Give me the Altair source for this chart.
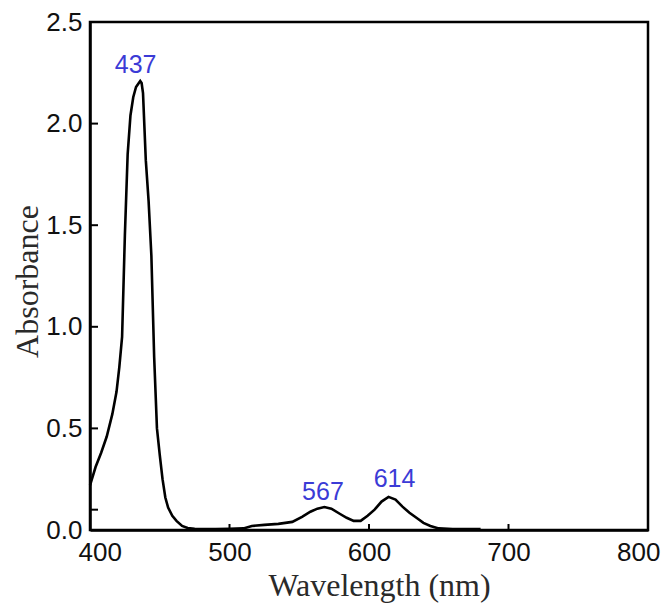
import altair as alt
import pandas as pd

# Absorption spectrum
wavelength = [400, 404, 408, 412, 416, 419, 421, 423, 425, 427, 429, 431, 433, 435, 436, 437, 438,
              440, 442, 444, 446, 448, 450, 452, 454, 456, 459, 462, 466, 470, 475, 480, 490, 500,
              510, 516, 525, 535, 545, 552, 558, 563, 568, 573, 579, 584, 589, 594, 599, 604, 609,
              614, 619, 624, 629, 634, 639, 644, 650, 660, 670, 680]
absorbance = [0.22, 0.31, 0.38, 0.46, 0.57, 0.68, 0.80, 0.95, 1.45, 1.85, 2.04, 2.13, 2.18, 2.20, 2.21,
              2.20, 2.15, 1.82, 1.62, 1.35, 0.85, 0.50, 0.37, 0.25, 0.16, 0.11, 0.07, 0.045, 0.02, 0.01,
              0.006, 0.005, 0.005, 0.006, 0.008, 0.02, 0.025, 0.03, 0.04, 0.065, 0.09, 0.105, 0.113,
              0.105, 0.08, 0.06, 0.045, 0.045, 0.07, 0.10, 0.14, 0.163, 0.15, 0.115, 0.085, 0.06,
              0.035, 0.02, 0.008, 0.005, 0.005, 0.005]

# Peak annotations
peak_labels = ["437", "567", "614"]
peak_wl = [437, 567, 614]
peak_abs = [2.21, 0.113, 0.163]

# Axis ticks
x_ticks = [400, 500, 600, 700, 800]
y_ticks = [0.0, 0.5, 1.0, 1.5, 2.0, 2.5]
x_inner_ticks = [500, 600, 700]
y_inner_ticks = [0.1, 0.5, 1.0, 1.5, 2.0]

W, H = 558, 508

spec_df = pd.DataFrame({"wl": wavelength, "abs": absorbance})
peaks_df = pd.DataFrame({"wl": peak_wl, "abs": peak_abs, "label": peak_labels})
xt_df = pd.DataFrame({"wl": x_inner_ticks})
yt_df = pd.DataFrame({"abs": y_inner_ticks})

xscale = alt.Scale(domain=[400, 800], nice=False, zero=False)
yscale = alt.Scale(domain=[0, 2.5], nice=False, zero=False)

x_axis = alt.Axis(values=x_ticks, title="Wavelength (nm)", grid=False, ticks=False, tickSize=0,
                  labelFont="Liberation Sans", labelFontSize=26, labelColor="#111111",
                  labelPadding=9, labelFlush=True, labelFlushOffset=12,
                  titleFont="Liberation Serif", titleFontSize=32, titleFontWeight="normal",
                  titleColor="#2a2a2a", titleX=289, titleY=65, titleBaseline="alphabetic",
                  domainColor="black", domainWidth=2.5)
y_axis = alt.Axis(values=y_ticks, title="Absorbance", grid=False, ticks=False, tickSize=0,
                  format=".1f", labelFont="Liberation Sans", labelFontSize=26, labelColor="#111111",
                  labelPadding=8, labelFlush=False,
                  titleFont="Liberation Serif", titleFontSize=32, titleFontWeight="normal",
                  titleColor="#2a2a2a", titleX=-53, titleY=259, titleBaseline="alphabetic",
                  domainColor="black", domainWidth=2.5)

line = alt.Chart(spec_df).mark_line(color="black", strokeWidth=2.6).encode(
    x=alt.X("wl:Q", scale=xscale, axis=x_axis),
    y=alt.Y("abs:Q", scale=yscale, axis=y_axis),
)

ytick_layer = alt.Chart(yt_df).mark_rule(color="black", strokeWidth=2).encode(
    y=alt.Y("abs:Q", scale=yscale),
    x=alt.value(0),
    x2=alt.value(8),
)
xtick_layer = alt.Chart(xt_df).mark_rule(color="black", strokeWidth=2).encode(
    x=alt.X("wl:Q", scale=xscale),
    y=alt.value(H),
    y2=alt.value(H - 6),
)

dxs = [-6, 0, 6]
dys = [-8, -7, -10]
text_layers = []
for i, lab in enumerate(peak_labels):
    t = alt.Chart(peaks_df[peaks_df["label"] == lab]).mark_text(
        font="Liberation Sans", fontSize=25, color="#3b3bd6", align="center",
        baseline="alphabetic", dx=dxs[i], dy=dys[i]
    ).encode(
        x=alt.X("wl:Q", scale=xscale),
        y=alt.Y("abs:Q", scale=yscale),
        text="label:N",
    )
    text_layers.append(t)

chart = alt.layer(line, ytick_layer, xtick_layer, *text_layers).properties(
    width=W, height=H,
    autosize=alt.AutoSizeParams(type="none"),
    padding={"left": 90, "top": 22, "right": 16, "bottom": 76},
    background="white",
).configure_view(stroke="black", strokeWidth=2.5)

chart.save("out.html", embed_options={"renderer": "svg", "actions": False})
